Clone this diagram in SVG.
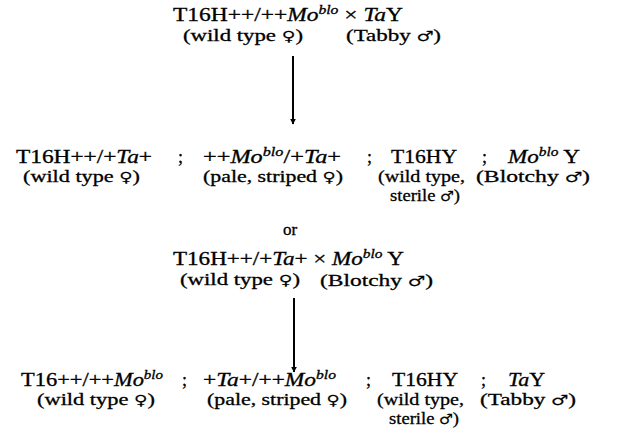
<svg xmlns="http://www.w3.org/2000/svg" width="624" height="443" viewBox="0 0 624 443">
<style>
text{font-family:"Liberation Serif","Times New Roman",serif;font-size:18px;fill:#000;stroke:#000;stroke-width:0.3}
.sub{font-size:17px}
.i{font-style:italic}
.sup{font-style:italic;font-size:12px}
.g{font-family:"DejaVu Sans",sans-serif;font-size:14px;stroke-width:0.2}
</style>
<defs>
<marker id="ah" viewBox="0 0 10 10" refX="9" refY="5" markerWidth="6" markerHeight="8" markerUnits="userSpaceOnUse" orient="auto">
<path d="M0,0 L10,5 L0,10 z" fill="#000"/>
</marker>
</defs>
<rect width="624" height="443" fill="#fff"/>
<g id="cross1">
<text x="173" y="21" textLength="230" lengthAdjust="spacingAndGlyphs">T16H++/++<tspan class="i">Mo</tspan><tspan class="sup" dy="-7">blo</tspan><tspan dy="7"> × </tspan><tspan class="i">Ta</tspan>Y</text>
<text class="sub" x="183" y="41" textLength="120" lengthAdjust="spacingAndGlyphs">(wild type <tspan class="g">♀</tspan>)</text>
<text class="sub" x="346" y="41" textLength="95" lengthAdjust="spacingAndGlyphs">(Tabby <tspan class="g">♂</tspan>)</text>
</g>
<g id="offspring1">
<text x="16" y="163" textLength="136" lengthAdjust="spacingAndGlyphs">T16H++/+<tspan class="i">Ta</tspan>+</text>
<text x="178" y="163">;</text>
<text x="203" y="163" textLength="138" lengthAdjust="spacingAndGlyphs">++<tspan class="i">Mo</tspan><tspan class="sup" dy="-7">blo</tspan><tspan dy="7">/+</tspan><tspan class="i">Ta</tspan>+</text>
<text x="367" y="163">;</text>
<text x="391" y="163" textLength="66" lengthAdjust="spacingAndGlyphs">T16HY</text>
<text x="482" y="163">;</text>
<text x="508" y="163" textLength="72" lengthAdjust="spacingAndGlyphs"><tspan class="i">Mo</tspan><tspan class="sup" dy="-7">blo</tspan><tspan dy="7"> Y</tspan></text>
<text class="sub" x="23" y="182" textLength="117" lengthAdjust="spacingAndGlyphs">(wild type <tspan class="g">♀</tspan>)</text>
<text class="sub" x="203" y="182" textLength="140" lengthAdjust="spacingAndGlyphs">(pale, striped <tspan class="g">♀</tspan>)</text>
<text class="sub" x="378" y="182" textLength="87" lengthAdjust="spacingAndGlyphs">(wild type,</text>
<text class="sub" x="476" y="182" textLength="114" lengthAdjust="spacingAndGlyphs">(Blotchy <tspan class="g">♂</tspan>)</text>
<text class="sub" x="390" y="201" textLength="70" lengthAdjust="spacingAndGlyphs">sterile <tspan class="g">♂</tspan>)</text>
</g>
<g id="or">
<text class="sub" x="283" y="235">or</text>
</g>
<g id="cross2">
<text x="173" y="265" textLength="231" lengthAdjust="spacingAndGlyphs">T16H++/+<tspan class="i">Ta</tspan>+ × <tspan class="i">Mo</tspan><tspan class="sup" dy="-7">blo</tspan><tspan dy="7"> Y</tspan></text>
<text class="sub" x="180" y="285" textLength="120" lengthAdjust="spacingAndGlyphs">(wild type <tspan class="g">♀</tspan>)</text>
<text class="sub" x="320" y="286" textLength="113" lengthAdjust="spacingAndGlyphs">(Blotchy <tspan class="g">♂</tspan>)</text>
</g>
<g id="offspring2">
<text x="21" y="386" textLength="142" lengthAdjust="spacingAndGlyphs">T16++/++<tspan class="i">Mo</tspan><tspan class="sup" dy="-7">blo</tspan></text>
<text x="182" y="386">;</text>
<text x="203" y="386" textLength="133" lengthAdjust="spacingAndGlyphs">+<tspan class="i">Ta</tspan>+/++<tspan class="i">Mo</tspan><tspan class="sup" dy="-7">blo</tspan></text>
<text x="366" y="386">;</text>
<text x="392" y="386" textLength="66" lengthAdjust="spacingAndGlyphs">T16HY</text>
<text x="481" y="386">;</text>
<text x="508" y="386" textLength="37" lengthAdjust="spacingAndGlyphs"><tspan class="i">Ta</tspan>Y</text>
<text class="sub" x="37" y="405" textLength="118" lengthAdjust="spacingAndGlyphs">(wild type <tspan class="g">♀</tspan>)</text>
<text class="sub" x="207" y="405" textLength="140" lengthAdjust="spacingAndGlyphs">(pale, striped <tspan class="g">♀</tspan>)</text>
<text class="sub" x="377" y="405" textLength="87" lengthAdjust="spacingAndGlyphs">(wild type,</text>
<text class="sub" x="480" y="405" textLength="96" lengthAdjust="spacingAndGlyphs">(Tabby <tspan class="g">♂</tspan>)</text>
<text class="sub" x="389" y="424" textLength="70" lengthAdjust="spacingAndGlyphs">sterile <tspan class="g">♂</tspan>)</text>
</g>
<g id="connectors" stroke="#000" stroke-width="2" fill="none">
<line x1="293" y1="56" x2="293" y2="124" marker-end="url(#ah)"/>
<line x1="294" y1="298" x2="294" y2="372" marker-end="url(#ah)"/>
</g>
</svg>
